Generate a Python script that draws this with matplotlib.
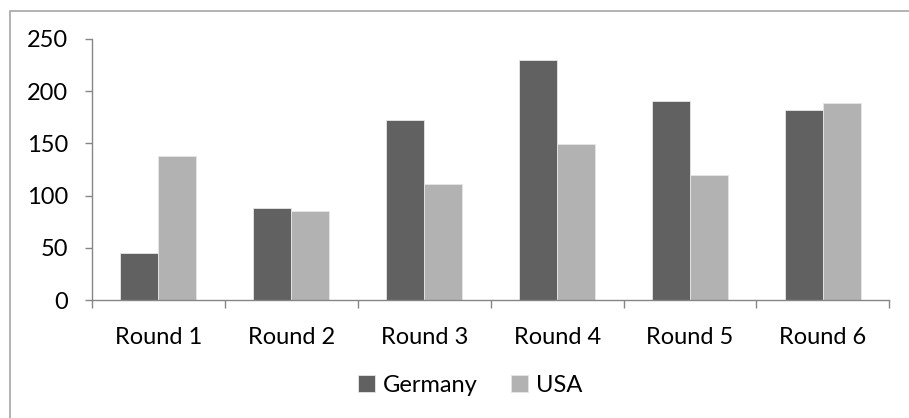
import matplotlib
matplotlib.use("Agg")
import matplotlib.pyplot as plt
from matplotlib.patches import Rectangle
import numpy as np

plt.rcParams['font.family'] = ['Lato', 'DejaVu Sans']

rounds = ["Round 1", "Round 2", "Round 3", "Round 4", "Round 5", "Round 6"]
germany = [45, 88, 172, 230, 190, 182]
usa = [138, 85, 111, 149, 120, 189]
y_ticks = [0, 50, 100, 150, 200, 250]

W, H = 909, 418
fig = plt.figure(figsize=(W / 100, H / 100), dpi=100)
fig.patch.set_facecolor("white")

# chart-area frame (runs off the right and bottom edges)
fig.add_artist(Rectangle((10 / W, -0.05), 1.0, 1 - 10.5 / H + 0.05,
                         transform=fig.transFigure, fill=False,
                         edgecolor="#a6a6a6", linewidth=1.2, clip_on=False))

ax = fig.add_axes([92 / W, (H - 300.3) / H, (889.3 - 92) / W, (300.3 - 38.7) / H])

x = np.arange(len(rounds))
bw = 1 / 3.5
axis_col = "#868686"
ax.bar(x - bw / 2, germany, width=bw, color="#616161", edgecolor="#e6e6e6",
       linewidth=0.6, label="Germany", zorder=2)
ax.bar(x + bw / 2, usa, width=bw, color="#b2b2b2", edgecolor="#e6e6e6",
       linewidth=0.6, label="USA", zorder=2)

ax.set_xlim(-0.5, len(rounds) - 0.5)
ax.set_ylim(0, 250)
ax.set_yticks(y_ticks)
ax.set_yticklabels([str(v) for v in y_ticks])

# category labels centred, tick marks at category boundaries
ax.set_xticks(np.arange(len(rounds) + 1) - 0.5)
ax.set_xticklabels([])
ax.set_xticks(x, minor=True)
ax.set_xticklabels(rounds, minor=True)
ax.tick_params(axis="x", which="minor", length=0, pad=19, labelsize=17, colors="black")
ax.tick_params(axis="x", which="major", length=6, width=1.0, color=axis_col)
ax.tick_params(axis="y", length=5, width=1.0, color=axis_col, pad=12,
               labelsize=17, labelcolor="black")

for side in ("top", "right"):
    ax.spines[side].set_visible(False)
for side in ("left", "bottom"):
    ax.spines[side].set_color(axis_col)
    ax.spines[side].set_linewidth(1.0)

fig.legend(loc="center", bbox_to_anchor=(470 / W, 1 - 385 / H), ncol=2,
           frameon=False, fontsize=17, handlelength=0.72, handleheight=0.72,
           handletextpad=0.35, columnspacing=1.4)

fig.savefig("out.png", dpi=100, facecolor="white")
